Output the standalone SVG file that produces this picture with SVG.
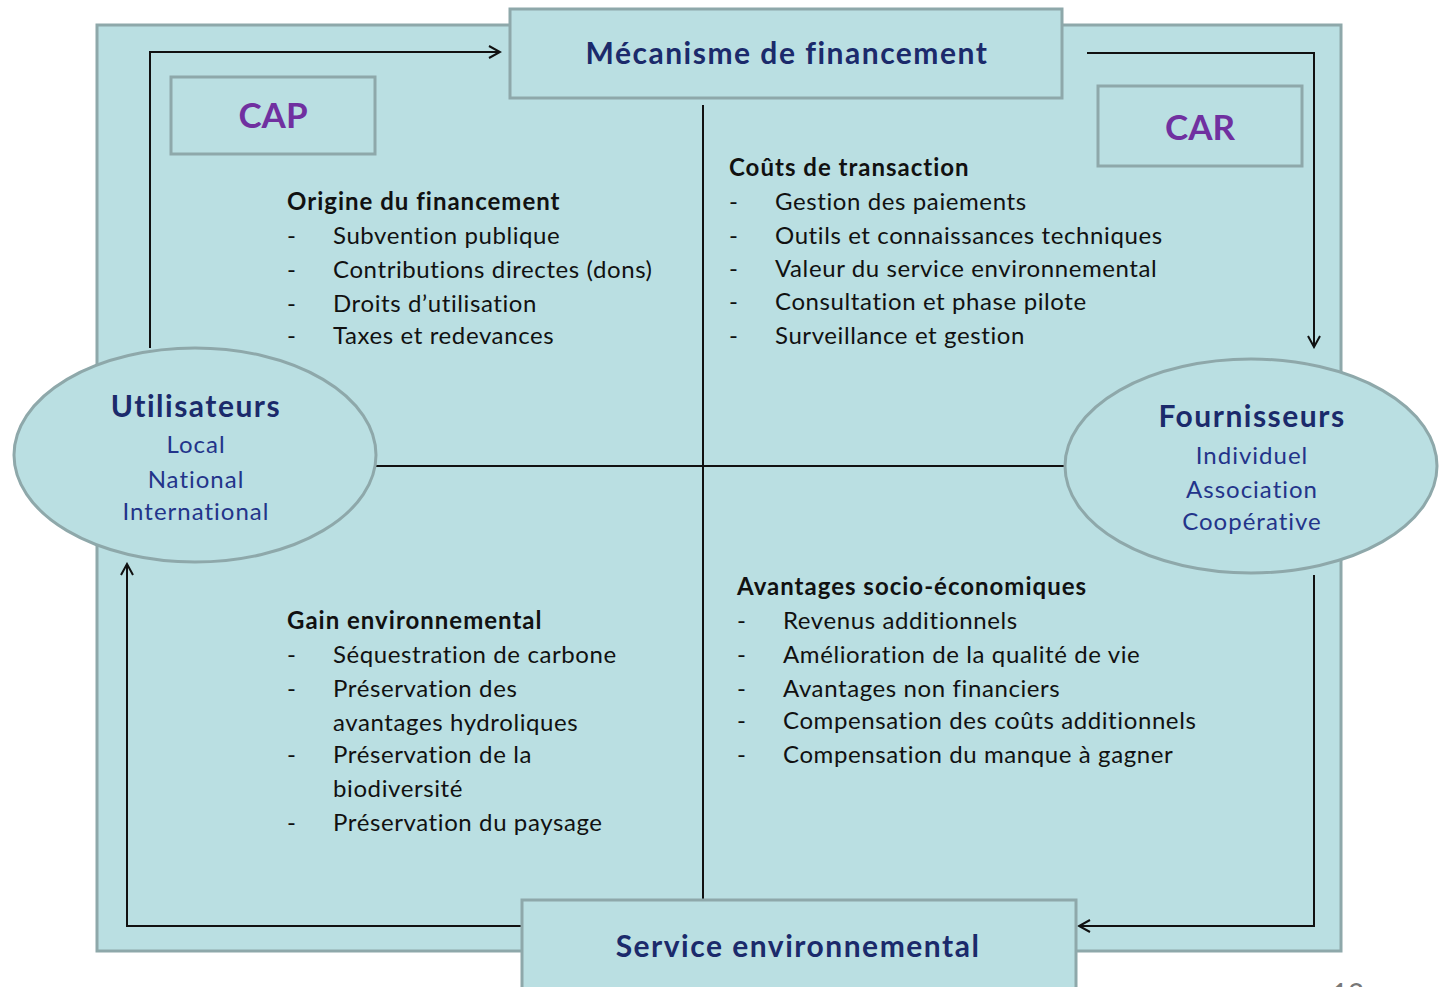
<svg xmlns="http://www.w3.org/2000/svg" width="1443" height="987" viewBox="0 0 1443 987">
<defs>
<style>
.box{fill:#badfe2;stroke:#8ea8aa;stroke-width:3}
.ln{fill:none;stroke:#111;stroke-width:2}
.ttl{font-family:Lato,"Open Sans",sans-serif;font-weight:bold;font-size:30px;letter-spacing:1.5px;fill:#1b2a6b;text-anchor:middle}
.sub{font-family:Lato,"Open Sans",sans-serif;font-size:24px;letter-spacing:1px;fill:#23348a;text-anchor:middle}
.tag{font-family:Lato,"Open Sans",sans-serif;font-weight:bold;font-size:35px;fill:#7030a0;text-anchor:middle}
.h{font-family:Lato,"Open Sans",sans-serif;font-weight:bold;font-size:24px;letter-spacing:1px;fill:#111}
.t{font-family:Lato,"Open Sans",sans-serif;font-size:24px;letter-spacing:0.6px;fill:#111}
</style>
<marker id="arr" markerWidth="14" markerHeight="14" refX="12" refY="7" orient="auto" markerUnits="userSpaceOnUse">
<path d="M1,1 L12,7 L1,13" fill="none" stroke="#111" stroke-width="2"/>
</marker>
</defs>
<rect width="1443" height="987" fill="#fff"/>
<g id="frame"><rect class="box" x="97" y="25" width="1244" height="926"/></g>
<g id="connectors">
<line class="ln" x1="703" y1="105" x2="703" y2="900"/>
<line class="ln" x1="376" y1="466" x2="1066" y2="466"/>
<path class="ln" d="M150,348 L150,52 L500,52" marker-end="url(#arr)"/>
<path class="ln" d="M1087,53 L1314,53 L1314,347" marker-end="url(#arr)"/>
<path class="ln" d="M1314,575 L1314,926 L1079,926" marker-end="url(#arr)"/>
<path class="ln" d="M522,926 L127,926 L127,564" marker-end="url(#arr)"/>
</g>
<g id="mecanisme"><rect class="box" x="510" y="9" width="552" height="89"/><text class="ttl" x="787" y="64">Mécanisme de financement</text></g>
<g id="service"><rect class="box" x="522" y="900" width="554" height="100"/><text class="ttl" x="798" y="957">Service environnemental</text></g>
<g id="cap"><rect class="box" x="171" y="77" width="204" height="77"/><text class="tag" x="273" y="128">CAP</text></g>
<g id="car"><rect class="box" x="1098" y="86" width="204" height="80"/><text class="tag" x="1200" y="140">CAR</text></g>
<g id="utilisateurs"><ellipse class="box" cx="195" cy="455" rx="181" ry="107"/>
<text class="ttl" x="196" y="417">Utilisateurs</text>
<text class="sub" x="196" y="453">Local</text>
<text class="sub" x="196" y="488">National</text>
<text class="sub" x="196" y="520">International</text></g>
<g id="fournisseurs"><ellipse class="box" cx="1251" cy="466" rx="186" ry="107"/>
<text class="ttl" x="1252" y="427">Fournisseurs</text>
<text class="sub" x="1252" y="464">Individuel</text>
<text class="sub" x="1252" y="498">Association</text>
<text class="sub" x="1252" y="530">Coopérative</text></g>
<g id="origine">
<text class="h" x="287" y="210">Origine du financement</text>
<text class="t" x="287" y="244">-</text><text class="t" x="333" y="244">Subvention publique</text>
<text class="t" x="287" y="278">-</text><text class="t" x="333" y="278">Contributions directes (dons)</text>
<text class="t" x="287" y="312">-</text><text class="t" x="333" y="312">Droits d’utilisation</text>
<text class="t" x="287" y="344">-</text><text class="t" x="333" y="344">Taxes et redevances</text>
</g>
<g id="couts">
<text class="h" x="729" y="176">Coûts de transaction</text>
<text class="t" x="729" y="210">-</text><text class="t" x="775" y="210">Gestion des paiements</text>
<text class="t" x="729" y="244">-</text><text class="t" x="775" y="244">Outils et connaissances techniques</text>
<text class="t" x="729" y="277">-</text><text class="t" x="775" y="277">Valeur du service environnemental</text>
<text class="t" x="729" y="310">-</text><text class="t" x="775" y="310">Consultation et phase pilote</text>
<text class="t" x="729" y="344">-</text><text class="t" x="775" y="344">Surveillance et gestion</text>
</g>
<g id="gain">
<text class="h" x="287" y="629">Gain environnemental</text>
<text class="t" x="287" y="663">-</text><text class="t" x="333" y="663">Séquestration de carbone</text>
<text class="t" x="287" y="697">-</text><text class="t" x="333" y="697">Préservation des</text>
<text class="t" x="333" y="731">avantages hydroliques</text>
<text class="t" x="287" y="763">-</text><text class="t" x="333" y="763">Préservation de la</text>
<text class="t" x="333" y="797">biodiversité</text>
<text class="t" x="287" y="831">-</text><text class="t" x="333" y="831">Préservation du paysage</text>
</g>
<g id="avantages">
<text class="h" x="737" y="595">Avantages socio-économiques</text>
<text class="t" x="737" y="629">-</text><text class="t" x="783" y="629">Revenus additionnels</text>
<text class="t" x="737" y="663">-</text><text class="t" x="783" y="663">Amélioration de la qualité de vie</text>
<text class="t" x="737" y="697">-</text><text class="t" x="783" y="697">Avantages non financiers</text>
<text class="t" x="737" y="729">-</text><text class="t" x="783" y="729">Compensation des coûts additionnels</text>
<text class="t" x="737" y="763">-</text><text class="t" x="783" y="763">Compensation du manque à gagner</text>
</g>
<text x="1348" y="1004" font-family="Lato, sans-serif" font-size="28" fill="#777" text-anchor="middle">12</text>
</svg>
